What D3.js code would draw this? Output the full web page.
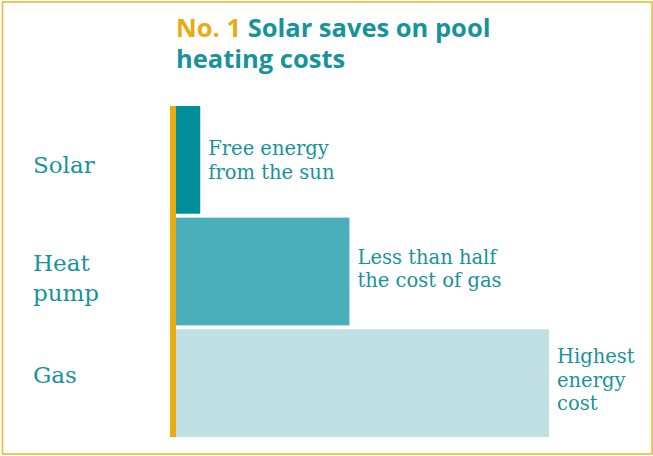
<!DOCTYPE html>
<html>
<head>
<meta charset="utf-8">
<script src="https://cdn.jsdelivr.net/npm/d3@7"></script>
<style>
  body { margin: 0; background: #fff; }
</style>
</head>
<body>
<svg id="chart" width="653" height="456"></svg>
<script>
// relative heating cost, gas = 1
const categories = ['Solar', 'Heat pump', 'Gas'];
const labelLines = [['Solar'], ['Heat', 'pump'], ['Gas']];
const values = [0.065, 0.465, 1.0];
const notes = [['Free energy', 'from the sun'], ['Less than half', 'the cost of gas'], ['Highest', 'energy', 'cost']];
const colors = ['#008e9a', '#4aafbb', '#bfdfe2'];

const teal = '#17939b';
const gold = '#e8ab10';
const serif = '"DejaVu Serif", serif';

const svg = d3.select('#chart');

// frame
svg.append('rect')
  .attr('x', 2.5).attr('y', 2)
  .attr('width', 649.5).attr('height', 452)
  .attr('fill', 'none')
  .attr('stroke', '#ecb93a')
  .attr('stroke-width', 1.6);

// title
const title = svg.append('text')
  .attr('x', 176).attr('y', 37)
  .style('font-family', '"Open Sans", sans-serif')
  .style('font-weight', 'bold')
  .style('font-size', '25.5px');
title.append('tspan').attr('fill', gold).text('No. 1 ');
title.append('tspan').attr('fill', teal).text('Solar saves on pool');
svg.append('text')
  .attr('x', 176).attr('y', 68)
  .attr('fill', teal)
  .style('font-family', '"Open Sans", sans-serif')
  .style('font-weight', 'bold')
  .style('font-size', '25.5px')
  .text('heating costs');

const x = d3.scaleLinear().domain([0, 1]).range([176, 549]);
const y = d3.scaleBand().domain(categories).range([106, 437]).paddingInner(0.035);

// bars
svg.selectAll('.bar')
  .data(categories)
  .join('rect')
  .attr('class', 'bar')
  .attr('x', x(0))
  .attr('y', d => y(d))
  .attr('width', (d, i) => x(values[i]) - x(0))
  .attr('height', y.bandwidth())
  .attr('fill', (d, i) => colors[i]);

// axis line
svg.append('rect')
  .attr('x', 170).attr('y', 106)
  .attr('width', 6).attr('height', 331)
  .attr('fill', gold);

// category labels (baseline offset from band middle)
const catShift = [13, -1, 0];
svg.selectAll('.cat')
  .data(categories)
  .join('text')
  .attr('class', 'cat')
  .attr('fill', teal)
  .style('font-family', serif)
  .style('font-size', '23px')
  .each(function(d, i) {
    const y0 = y(d) + y.bandwidth() / 2 + catShift[i];
    d3.select(this).selectAll('tspan')
      .data(labelLines[i])
      .join('tspan')
      .attr('x', 33)
      .attr('y', (l, j) => y0 + j * 30)
      .text(l => l);
  });

// notes (first baseline offset from band top)
const noteShift = [49, 46, 34];
svg.selectAll('.note')
  .data(categories)
  .join('text')
  .attr('class', 'note')
  .attr('fill', teal)
  .style('font-family', serif)
  .style('font-size', '19.5px')
  .each(function(d, i) {
    const y0 = y(d) + noteShift[i];
    d3.select(this).selectAll('tspan')
      .data(notes[i])
      .join('tspan')
      .attr('x', x(values[i]) + 8)
      .attr('y', (l, j) => y0 + j * 23.5)
      .text(l => l);
  });
</script>
</body>
</html>
